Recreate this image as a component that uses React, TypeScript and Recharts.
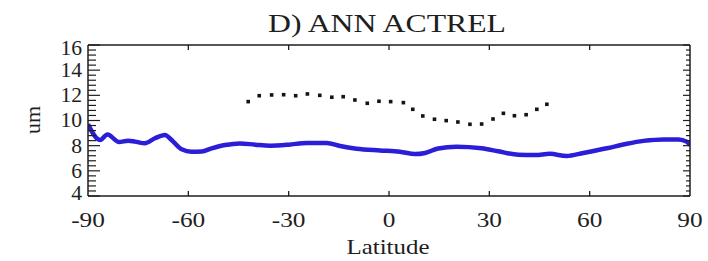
import React from 'react';
import { ComposedChart, Line, Scatter, XAxis, YAxis } from 'recharts';

const blueLat = [-90, -86.4, -84.2, -80.7, -78, -75.9, -73, -70, -67, -65, -62, -59, -56, -53, -49, -44.6, -40, -35.6, -30, -24.6, -18.6, -14.6, -9.7, -2.7, 3.3, 7.8, 10.8, 14.7, 20.2, 27.7, 32.7, 38.7, 43.7, 48.1, 53.1, 58.1, 65.1, 71.1, 76.1, 82.1, 86.6, 89, 90];
const blueVal = [9.7, 8.45, 8.89, 8.29, 8.4, 8.32, 8.19, 8.59, 8.85, 8.45, 7.71, 7.52, 7.54, 7.79, 8.05, 8.18, 8.08, 8.0, 8.08, 8.22, 8.22, 7.97, 7.76, 7.62, 7.52, 7.33, 7.42, 7.78, 7.92, 7.8, 7.55, 7.28, 7.26, 7.35, 7.18, 7.42, 7.79, 8.15, 8.38, 8.5, 8.5, 8.32, 8.05];

const dotLat = [-42.1, -38.8, -35.1, -31.5, -27.9, -24.4, -20.7, -17.1, -13.7, -10.2, -6.5, -3.0, 0.5, 4.3, 7.1, 10.1, 13.6, 17.1, 20.6, 24.2, 27.7, 31.1, 34.2, 37.5, 41.0, 44.2, 47.2];
const dotVal = [11.5, 11.97, 12.03, 12.05, 11.97, 12.11, 12.0, 11.85, 11.89, 11.63, 11.37, 11.53, 11.5, 11.42, 10.89, 10.36, 10.1, 9.99, 9.88, 9.7, 9.72, 10.12, 10.57, 10.38, 10.46, 10.89, 11.29];

const xTickValues = [-90, -60, -30, 0, 30, 60, 90];
const yLabelValues = [4, 6, 8, 10, 12, 14, 16];
const yLabelShift: Record<number, number> = { 16: 3, 14: 0, 12: 0, 10: 0, 8: 0, 6: 0, 4: -3 };

const TITLE = 'D) ANN ACTREL';
const X_LABEL = 'Latitude';
const Y_LABEL = 'um';

const blueData = blueLat.map((lat, i) => ({ lat, v: blueVal[i] }));
const dotData = dotLat.map((lat, i) => ({ lat, v: dotVal[i] }));

const yTicks: number[] = [];
for (let k = 0; k <= 30; k++) yTicks.push(Math.round((4 + 0.4 * k) * 10) / 10);

const isMajor = (v: number) => yLabelValues.some((m) => Math.abs(m - v) < 1e-6);

const FONT = '"Liberation Serif", "Times New Roman", serif';
const INK = '#1e1e1e';

const BottomTick = (props: any) => {
  const { x, y, payload } = props;
  const v = payload.value;
  return (
    <g>
      {Math.abs(v) < 90 && <line x1={x} y1={y} x2={x} y2={y - 5} stroke={INK} strokeWidth={1.3} />}
      <text
        x={x}
        y={y + 31}
        textAnchor="middle"
        fontFamily={FONT}
        fontSize={22}
        fill={INK}
        transform={`translate(${x} 0) scale(1.15 1) translate(${-x} 0)`}
      >
        {v}
      </text>
    </g>
  );
};

const TopTick = (props: any) => {
  const { x, y, payload } = props;
  const v = payload.value;
  if (Math.abs(v) >= 90) return <g />;
  return <line x1={x} y1={y} x2={x} y2={y + 5} stroke={INK} strokeWidth={1.3} />;
};

const LeftTick = (props: any) => {
  const { x, y, payload } = props;
  const v = payload.value;
  const major = isMajor(v);
  return (
    <g>
      <line x1={x} y1={y} x2={x + (major ? 12 : 8)} y2={y} stroke={INK} strokeWidth={1.2} />
      {major && (
        <text
          x={x - 6}
          y={y + (yLabelShift[Math.round(v)] || 0) + 7}
          textAnchor="end"
          fontFamily={FONT}
          fontSize={20}
          fill={INK}
          transform={`translate(${x - 6} 0) scale(1.08 1) translate(${-(x - 6)} 0)`}
        >
          {Math.round(v)}
        </text>
      )}
    </g>
  );
};

const RightTick = (props: any) => {
  const { x, y, payload } = props;
  const major = isMajor(payload.value);
  return <line x1={x} y1={y} x2={x - (major ? 7 : 4)} y2={y} stroke={INK} strokeWidth={1.2} />;
};

const SquareDot = (props: any) => {
  const { cx, cy } = props;
  if (cx == null || cy == null) return <g />;
  return <rect x={cx - 1.8} y={cy - 1.8} width={3.6} height={3.6} fill="#141414" />;
};

export default function App() {
  return (
    <div style={{ position: 'absolute', left: 0, top: 0, width: 708, height: 261, background: '#fff' }}>
      <ComposedChart width={708} height={261} margin={{ top: 44, right: 17, bottom: 64, left: 87 }}>
        <XAxis
          xAxisId="b"
          type="number"
          dataKey="lat"
          domain={[-90, 90]}
          ticks={xTickValues}
          allowDataOverflow
          height={1}
          tickSize={0}
          tickMargin={0}
          tickLine={false}
          axisLine={{ stroke: INK, strokeWidth: 1.5 }}
          tick={<BottomTick />}
          interval={0}
        />
        <XAxis
          xAxisId="t"
          orientation="top"
          type="number"
          dataKey="lat"
          domain={[-90, 90]}
          ticks={xTickValues}
          allowDataOverflow
          height={1}
          tickSize={0}
          tickMargin={0}
          tickLine={false}
          axisLine={{ stroke: INK, strokeWidth: 1.5 }}
          tick={<TopTick />}
          interval={0}
        />
        <YAxis
          yAxisId="l"
          type="number"
          domain={[4, 16]}
          ticks={yTicks}
          allowDataOverflow
          width={1}
          tickSize={0}
          tickMargin={0}
          tickLine={false}
          axisLine={{ stroke: INK, strokeWidth: 1.5 }}
          tick={<LeftTick />}
          interval={0}
        />
        <YAxis
          yAxisId="r"
          orientation="right"
          type="number"
          domain={[4, 16]}
          ticks={yTicks}
          allowDataOverflow
          width={1}
          tickSize={0}
          tickMargin={0}
          tickLine={false}
          axisLine={{ stroke: INK, strokeWidth: 1.5 }}
          tick={<RightTick />}
          interval={0}
        />
        <Line
          xAxisId="b"
          yAxisId="l"
          data={blueData}
          dataKey="v"
          type="monotone"
          stroke="#2a1ed8"
          strokeWidth={4.5}
          dot={false}
          isAnimationActive={false}
        />
        <Scatter
          xAxisId="t"
          yAxisId="r"
          data={dotData}
          dataKey="v"
          shape={<SquareDot />}
          isAnimationActive={false}
        />
      </ComposedChart>
      <svg
        width={708}
        height={261}
        style={{ position: 'absolute', left: 0, top: 0, pointerEvents: 'none' }}
      >
        <text
          x={387}
          y={32}
          textAnchor="middle"
          fontFamily={FONT}
          fontSize={26}
          fill={INK}
          textLength={238}
          lengthAdjust="spacingAndGlyphs"
        >
          {TITLE}
        </text>
        <text
          x={388}
          y={254}
          textAnchor="middle"
          fontFamily={FONT}
          fontSize={22}
          fill={INK}
          textLength={83}
          lengthAdjust="spacingAndGlyphs"
        >
          {X_LABEL}
        </text>
        <text
          x={0}
          y={0}
          textAnchor="middle"
          fontFamily={FONT}
          fontSize={22}
          fill={INK}
          transform="translate(40 120) rotate(-90)"
        >
          {Y_LABEL}
        </text>
      </svg>
    </div>
  );
}
